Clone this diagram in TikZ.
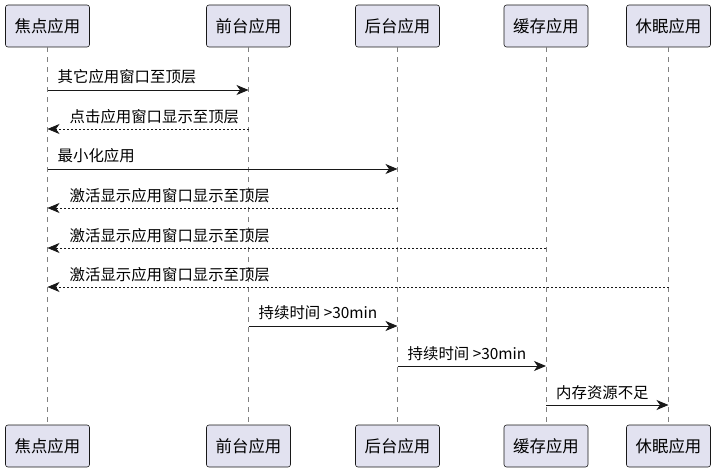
\documentclass[tikz,border=0pt]{standalone}
\usepackage{fontspec}
\setmainfont{Noto Sans CJK SC}
\usetikzlibrary{arrows.meta}
\definecolor{partfill}{HTML}{E2E2F0}
\definecolor{umlline}{HTML}{181818}
\begin{document}
\begin{tikzpicture}[x=1pt,y=-1pt]
    \tikzstyle{actor}=[draw=umlline, fill=partfill, rounded corners=2.5pt, line width=0.6pt, minimum width=84pt, minimum height=42pt, inner sep=0pt, font=\fontsize{16.4}{18}\selectfont]
    \tikzstyle{life}=[draw=umlline!55, line width=0.7pt, dash pattern=on 5pt off 5pt]
    \tikzstyle{call}=[draw=umlline, line width=0.9pt, -{Stealth[length=12pt,width=10pt,inset=3.5pt]}]
    \tikzstyle{back}=[call, line width=0.7pt, dash pattern=on 2pt off 2pt]
    \tikzstyle{lbl}=[inner sep=0pt, anchor=base west, font=\fontsize{15.4}{17}\selectfont]
    \useasboundingbox (0,0) rectangle (718,473);
    % participants, top and bottom
    \node[actor] (jd) at (47.5,26) {焦点应用};
    \node[actor] (qt) at (248.5,26) {前台应用};
    \node[actor] (ht) at (397.5,26) {后台应用};
    \node[actor] (hc) at (546,26) {缓存应用};
    \node[actor] (xm) at (668.5,26) {休眠应用};
    \node[actor] (jdb) at (47.5,446) {焦点应用};
    \node[actor] (qtb) at (248.5,446) {前台应用};
    \node[actor] (htb) at (397.5,446) {后台应用};
    \node[actor] (hcb) at (546,446) {缓存应用};
    \node[actor] (xmb) at (668.5,446) {休眠应用};
    % lifelines
    \draw[life] (jd) -- (jdb);
    \draw[life] (qt) -- (qtb);
    \draw[life] (ht) -- (htb);
    \draw[life] (hc) -- (hcb);
    \draw[life] (xm) -- (xmb);
    % message rows
    \coordinate (m1) at (0,90);
    \coordinate (m2) at (0,129);
    \coordinate (m3) at (0,169);
    \coordinate (m4) at (0,208);
    \coordinate (m5) at (0,248);
    \coordinate (m6) at (0,287);
    \coordinate (m7) at (0,326);
    \coordinate (m8) at (0,366);
    \coordinate (m9) at (0,405);
    \draw[call] (jd |- m1) -- (qt |- m1);
    \node[lbl] (t1) at ([xshift=10pt,yshift=7pt]jd |- m1) {其它应用窗口至顶层};
    \draw[back] (qt |- m2) -- (jd |- m2);
    \node[lbl] (t2) at ([xshift=22pt,yshift=6.5pt]jd |- m2) {点击应用窗口显示至顶层};
    \draw[call] (jd |- m3) -- (ht |- m3);
    \node[lbl] (t3) at ([xshift=10pt,yshift=7pt]jd |- m3) {最小化应用};
    \draw[back] (ht |- m4) -- (jd |- m4);
    \node[lbl] (t4) at ([xshift=22pt,yshift=6.5pt]jd |- m4) {激活显示应用窗口显示至顶层};
    \draw[back] (hc |- m5) -- (jd |- m5);
    \node[lbl] (t5) at ([xshift=22pt,yshift=6.5pt]jd |- m5) {激活显示应用窗口显示至顶层};
    \draw[back] (xm |- m6) -- (jd |- m6);
    \node[lbl] (t6) at ([xshift=22pt,yshift=6.5pt]jd |- m6) {激活显示应用窗口显示至顶层};
    \draw[call] (qt |- m7) -- (ht |- m7);
    \node[lbl] (t7) at ([xshift=10pt,yshift=7pt]qt |- m7) {持续时间 >30min};
    \draw[call] (ht |- m8) -- (hc |- m8);
    \node[lbl] (t8) at ([xshift=10pt,yshift=7pt]ht |- m8) {持续时间 >30min};
    \draw[call] (hc |- m9) -- (xm |- m9);
    \node[lbl] (t9) at ([xshift=10pt,yshift=7pt]hc |- m9) {内存资源不足};
\end{tikzpicture}
\end{document}
